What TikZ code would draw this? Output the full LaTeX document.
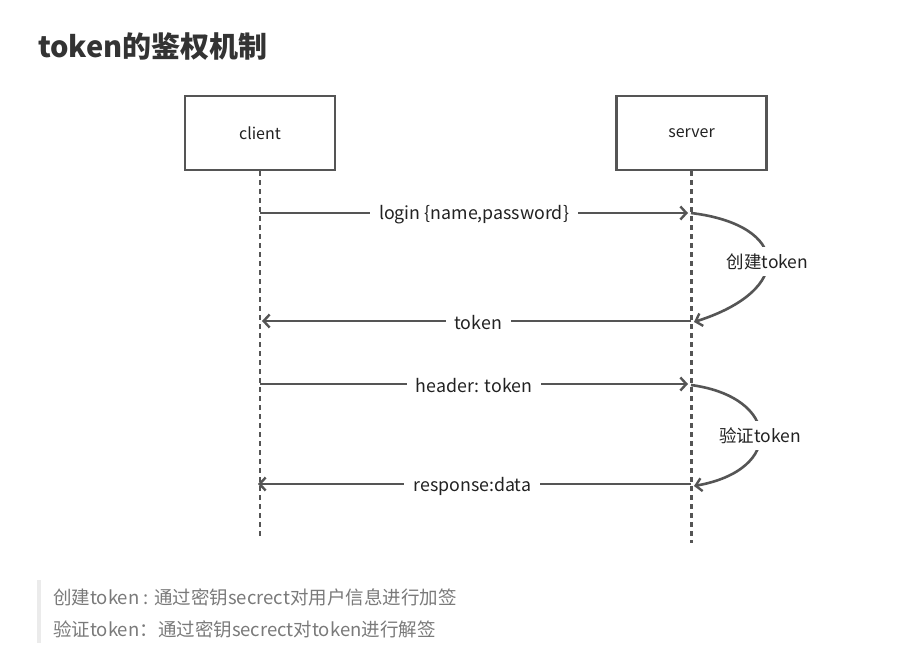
\documentclass[tikz,border=0pt]{standalone}
\usepackage{fontspec}
\setmainfont{Noto Sans CJK SC}
\usetikzlibrary{arrows.meta}
\definecolor{ln}{HTML}{555555}
\definecolor{tx}{HTML}{222222}
\definecolor{note}{HTML}{7A7A7A}
\definecolor{ttl}{HTML}{333333}
\definecolor{bar}{HTML}{EBEBEB}
\tikzset{
  actor/.style={draw=ln, line width=2.3pt, minimum width=150pt, minimum height=74pt, inner sep=0pt, font=\fontsize{16}{19}\selectfont, text=tx},
  life/.style={draw=ln, line width=2.2pt, dash pattern=on 5pt off 4pt},
  msg/.style={draw=ln, line width=2.6pt, -{Straight Barb[length=6pt,width=13pt,line width=2.4pt]}},
  lab/.style={fill=white, inner xsep=9pt, inner ysep=2pt, yshift=-2pt, font=\fontsize{17.8}{21}\selectfont, text=tx},
  slab/.style={fill=white, inner xsep=1pt, inner ysep=6pt, yshift=-1.5pt, font=\fontsize{17.5}{21}\selectfont, text=tx},
}
\begin{document}
\begin{tikzpicture}[x=1pt,y=-1pt]
\useasboundingbox (0,0) rectangle (901,658);
\fill[white] (0,0) rectangle (901,658);
\node[anchor=west, font=\fontsize{29}{33}\selectfont\bfseries, text=ttl, inner sep=0pt] (title) at (38,47) {token的鉴权机制};
\node[actor] (client) at (260,133) {\raisebox{-1pt}{client}};
\node[actor] (server) at (691.5,133) {\raisebox{-1.5pt}{server}};
\coordinate (cend) at (260,537);
\coordinate (send) at (691.5,543);
\draw[life] (client.south) -- (cend);
\draw[life] (server.south) -- (send);
\coordinate (c1) at (260,213); \coordinate (s1) at (688,213);
\coordinate (s2) at (691,321); \coordinate (c2) at (262,321);
\coordinate (c3) at (260,384); \coordinate (s3) at (688,384);
\coordinate (s4) at (691,484); \coordinate (c4) at (258,484);
\coordinate (s1b) at (691,213); \coordinate (s2b) at (694,322);
\coordinate (s3b) at (691,385); \coordinate (s4b) at (694,486);
\draw[msg] (c1) -- node[lab] (l1) {login \{name,password\}} (s1);
\draw[msg] (s2) -- node[lab, pos=0.496] (l2) {token} (c2);
\draw[msg] (c3) -- node[lab, pos=0.5] (l3) {header: token} (s3);
\draw[msg] (s4) -- node[lab, pos=0.505] (l4) {response:data} (c4);
\draw[msg] (s1b) .. controls (790,225) and (795,290) .. node[slab] (l5) {创建token} (s2b);
\draw[msg] (s3b) .. controls (780,397) and (785,470) .. node[slab] (l6) {验证token} (s4b);
\fill[bar] (37,580) rectangle (41,643);
\node[anchor=west, text=note, font=\fontsize{18.5}{22}\selectfont, inner sep=0pt] (n1) at (53,597) {创建token : 通过密钥secrect对用户信息进行加签};
\node[anchor=west, text=note, font=\fontsize{18.5}{22}\selectfont, inner sep=0pt] (n2) at (53,629) {验证token：通过密钥secrect对token进行解签};
\end{tikzpicture}
\end{document}
